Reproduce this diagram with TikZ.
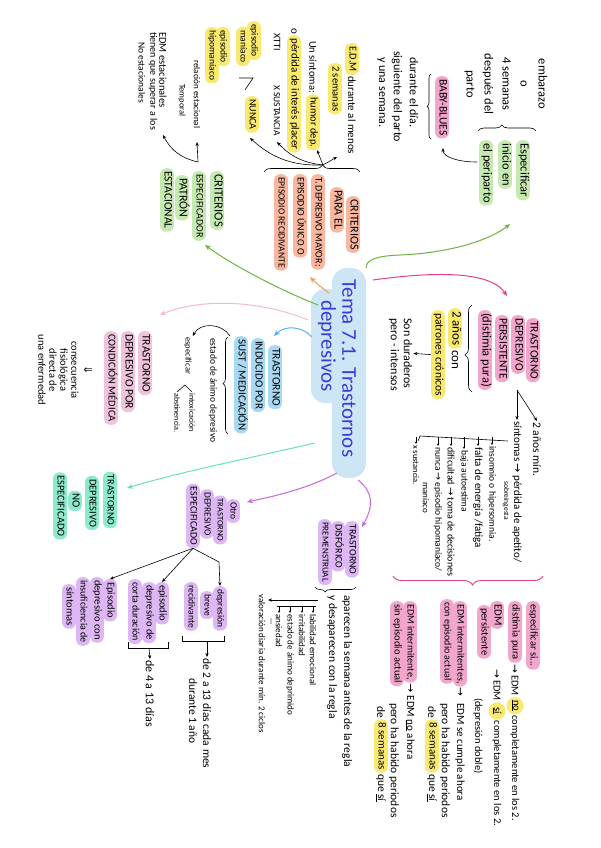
\documentclass[tikz,border=0pt]{standalone}
\usepackage{fontspec}
\setmainfont{Carlito}
\newfontfamily\symf{DejaVu Sans}
\usetikzlibrary{arrows.meta,decorations.pathreplacing}
\newcommand\myfs[1]{\fontsize{#1}{#1}\selectfont}
\newcommand\myra{{\symf →}}
\definecolor{cgreen}{HTML}{C5E9B1}
\definecolor{lgreen}{HTML}{6CB33F}
\definecolor{corange}{HTML}{F9B79F}
\definecolor{lorange}{HTML}{F39A5C}
\definecolor{cyellow}{HTML}{FAE96F}
\definecolor{cpink}{HTML}{F3A6CC}
\definecolor{lpink}{HTML}{E0408A}
\definecolor{clpink}{HTML}{F0C3DC}
\definecolor{llpink}{HTML}{F6B9D3}
\definecolor{cblue}{HTML}{A9D8F3}
\definecolor{ccentral}{HTML}{CDE6F5}
\definecolor{lblue}{HTML}{55B6EE}
\definecolor{tblue}{HTML}{3C3AD8}
\definecolor{cteal}{HTML}{8DEACD}
\definecolor{lteal}{HTML}{6ADFBE}
\definecolor{cpurple}{HTML}{DDB7F3}
\definecolor{lpurple}{HTML}{C467E0}
\begin{document}
\begin{tikzpicture}[x=1pt,y=1pt,rotate=-90,transform shape,
  tx/.style={anchor=west,inner sep=1pt,font=\myfs{#1}},
  tx/.default=10,
  pill/.style 2 args={anchor=west,fill=#1,rounded corners=6pt,inner xsep=3pt,inner ysep=2.5pt,text height=0.68em,text depth=0.2em,font=\myfs{#2}},
  cpill/.style 2 args={pill={#1}{#2},anchor=center},
  circ/.style={circle,fill=cyellow,anchor=west,inner sep=0.5pt,minimum size=17pt,font=\myfs{10.5}},
  blk/.style={line width=0.6pt,-{Stealth[length=4pt,width=3.2pt]}},
  sm/.style={line width=0.5pt,-{Stealth[length=2.5pt,width=2.4pt]}},
  link/.style={line width=1pt,draw=#1,-{Stealth[length=6pt,width=5pt]}},
  br/.style 2 args={line width=0.6pt,decorate,decoration={brace,amplitude=#1,aspect=#2}},
]
\fill[white] (0,0) rectangle (848,600);
\useasboundingbox (0,0) rectangle (848,600);

% ---------- central topic ----------
\node[fill=ccentral,rounded corners=15pt,minimum width=210pt,minimum height=34pt,inner sep=0] (tema) at (373,349) {};
\node[fill=ccentral,rounded corners=14pt,minimum width=114pt,minimum height=32pt,inner sep=0] (temab) at (346,327) {};
\node[tx=21,text=tblue] (tm1) at (278,349) {Tema 7.1. Trastornos};
\node[tx=21,text=tblue] (tm2) at (299,327) {depresivos};

% ---------- periparto ----------
\node[align=center,inner sep=0,font=\fontsize{12.5}{18}\selectfont] (pre) at (84,506) {embarazo\\o\\4 semanas\\después del\\parto};
\node[pill={cgreen}{12.5}] (e1) at (140,523) {Especificar};
\node[pill={cgreen}{12.5}] (e2) at (140,505) {inicio en};
\node[pill={cgreen}{12.5}] (e3) at (140,486) {el periparto};
\node[pill={cpink}{11.5}] (bb) at (76,442) {BABY-BLUES};
\node[tx=12] (d1) at (56,414) {durante el día.};
\node[tx=12] (d2) at (50,397) {siguiente del parto};
\node[tx=12] (d3) at (56,381) {y una semana.};

% ---------- criterios TDM (yellow) ----------
\node[pill={cyellow}{10.5}] (edm) at (43,352) {E.D.M};
\node[tx=11] (dur) at (edm.east) {durante al menos};
\node[pill={cyellow}{10.5}] (sem) at (63,335) {2 semanas};
\node[tx=10.5] (uns) at (40,313) {Un síntoma:};
\node[pill={cyellow}{10.5}] (hum) at (uns.east) {humor dep.};
\node[tx=11] (oo) at (27,294) {o};
\node[pill={cyellow}{11}] (ped) at (oo.east) {pérdida de interés placer};
\node[tx=10] (xtt) at (32,277) {XTTI};
\node[tx=9.5] (xsu) at (84,277) {X SUSTANCIA};
\node[pill={cyellow}{9.5}] (ep1) at (21,254) {episodio};
\node[pill={cyellow}{9.5}] (ep2) at (27,243) {maníaco};
\node[pill={cyellow}{9.5}] (eh1) at (27,223) {episodio};
\node[pill={cyellow}{9.5}] (eh2) at (27,212) {hipomaníaco};
\node[pill={cyellow}{10}] (nun) at (96,252) {NUNCA};

% ---------- criterios TDM (orange) ----------
\node[pill={corange}{12}] (o1) at (196,353) {CRITERIOS};
\node[pill={corange}{12}] (o2) at (187,337) {PARA EL};
\node[pill={corange}{10}] (o3) at (174,318) {T. DEPRESIVO MAYOR:};
\node[pill={corange}{10}] (o4) at (174,300) {EPISODIO ÚNICO O};
\node[pill={corange}{9.5}] (o5) at (174,281) {EPISODIO RECIDIVANTE};

% ---------- patrón estacional ----------
\node[pill={cgreen}{12.5}] (c1) at (171,217) {CRITERIOS};
\node[pill={cgreen}{10}] (c2) at (171,199) {ESPECIFICADOR};
\node[pill={cgreen}{12}] (c3) at (175,182) {PATRÓN};
\node[pill={cgreen}{11.5}] (c4) at (168,167) {ESTACIONAL};
\node[tx=9] (rel) at (59,197) {relación estacional};
\node[tx=8.5] (tem) at (83,182) {Temporal};
\node[tx=10.5] (ee) at (31,163) {EDM estacionales};
\node[tx=10] (tq) at (31,153) {tienen que superar a los};
\node[tx=9.5] (ne) at (41,142) {No estacionales};

% ---------- persistente ----------
\node[pill={cpink}{11.5}] (p1) at (318,533) {TRASTORNO};
\node[pill={cpink}{11.5}] (p2) at (315,518) {DEPRESIVO};
\node[pill={cpink}{11.5}] (p3) at (315,502) {PERSISTENTE};
\node[pill={cpink}{12.5}] (p4) at (310,485) {(distimia pura)};
\node[pill={cyellow}{13}] (an) at (308,455) {2 años};
\node[tx=13] (con) at (an.east) {con};
\node[pill={cyellow}{11.5}] (pc) at (310,438) {patrones crónicos};
\node[tx=12] (sd) at (317,408) {Son duraderos};
\node[tx=12] (pi) at (317,394) {pero - intensos};
\node[tx=11.5] (am) at (421,537) {2 años mín.};
\node[tx=11] (sn) at (420,517) {síntomas \myra{} pérdida de apetito/};
\node[tx=7.5] (sob) at (480,506) {sobreingesta};
\node[tx=9.5] (s1) at (445,492) {insomnio o hipersomnia.};
\node[tx=11] (s2) at (446,478) {falta de energía /fatiga};
\node[tx=9.5] (s3) at (449,464) {baja autoestima};
\node[tx=10] (s4) at (446,451) {dificultad \myra{} toma de decisiones};
\node[tx=9.5] (s5) at (446,438) {nunca \myra{} episodio hipomaníaco/};
\node[tx=9] (s6) at (481,426) {maníaco};
\node[tx=8.5] (s7) at (444,416) {x sustancia.};

% ---------- especificar si ----------
\node[pill={cpink}{10.5}] (q1) at (601,533) {especificar si...};
\node[pill={cpink}{10.5}] (q2) at (601,515) {distimia pura};
\node[tx=10.5] (q2a) at (q2.east) {\myra{} EDM};
\node[circ] (q2n) at (q2a.east) {\underline{no}};
\node[tx=10.5] (q2b) at (q2n.east) {completamente en los 2.};
\node[pill={cpink}{11}] (q3) at (601,497) {EDM};
\node[tx=10.5] (q3a) at (668,497) {\myra{} EDM};
\node[circ] (q3s) at (q3a.east) {\underline{sí}};
\node[tx=10.5] (q3b) at (q3s.east) {completamente en los 2.};
\node[pill={cpink}{10.5}] (q4) at (605,484) {persistente};
\node[tx=10.5] (q4b) at (697,478) {(depresión doble)};
\node[pill={cpink}{10}] (q5) at (601,460) {EDM intermitentes,};
\node[tx=10.5] (q5a) at (q5.east) {\myra};
\node[tx=11] (q5b) at (702,460) {EDM se cumple ahora};
\node[pill={cpink}{10}] (q6) at (599,447) {con episodio actual};
\node[tx=11.5] (q6b) at (702,445) {pero ha habido periodos};
\node[tx=11.5] (q7a) at (705,432) {de};
\node[pill={cyellow}{11}] (q7b) at (q7a.east) {8 semanas};
\node[tx=11.5] (q7c) at (q7b.east) {que \underline{sí}};
\node[pill={cpink}{10}] (q8) at (601,410) {EDM intermitente,};
\node[tx=11] (q8a) at (q8.east) {\myra{} EDM \underline{no} ahora};
\node[pill={cpink}{10.5}] (q9) at (601,397) {sin episodio actual};
\node[tx=11.5] (q9b) at (702,394) {pero ha habido periodos};
\node[tx=11.5] (q10a) at (705,381) {de};
\node[pill={cyellow}{11}] (q10b) at (q10a.east) {8 semanas};
\node[tx=11.5] (q10c) at (q10b.east) {que \underline{sí}};

% ---------- premenstrual ----------
\node[pill={cpurple}{10}] (m1) at (521,352) {TRASTORNO};
\node[pill={cpurple}{10}] (m2) at (521,338) {DISFÓRICO};
\node[pill={cpurple}{9}] (m3) at (519,325) {PREMENSTRUAL};
\node[tx=11.5] (ap1) at (594,347) {aparecen la semana antes de la regla};
\node[tx=11.5] (ap2) at (594,332) {y desaparecen con la regla};
\node[tx=9] (l1) at (613,313) {labilidad emocional};
\node[tx=9] (l2) at (613,302) {irritabilidad};
\node[tx=9] (l3) at (613,290) {estado de ánimo deprimido};
\node[tx=9] (l4) at (613,279) {ansiedad};
\node[tx=9] (l5) at (617,271) {...};
\node[tx=9] (val) at (593,262) {valoración diaria durante mín. 2 ciclos};

% ---------- otro especificado ----------
\node[cpill={cpurple}{9.5}] (g1) at (511,233) {Otro};
\node[cpill={cpurple}{8.5}] (g2) at (520,220) {TRASTORNO};
\node[cpill={cpurple}{9.5}] (g3) at (514,207) {DEPRESIVO};
\node[cpill={cpurple}{10}] (g4) at (516,193) {ESPECIFICADO};
\node[pill={cpurple}{9.5}] (db1) at (586,220) {depresión};
\node[pill={cpurple}{9.5}] (db2) at (591,207) {breve};
\node[pill={cpurple}{9.5}] (db3) at (582,191) {recidivante};
\node[tx=11.5] (db4) at (657,207) {de 2 a 13 días cada mes};
\node[tx=11.5] (db5) at (677,193) {durante 1 año};
\node[pill={cpurple}{10.5}] (ec1) at (582,162) {episodio};
\node[pill={cpurple}{10.5}] (ec2) at (582,149) {depresivo de};
\node[pill={cpurple}{10}] (ec3) at (579,135) {corta duración};
\node[tx=12] (ec4) at (659,150) {de 4 a 13 días};
\node[pill={cpurple}{10.5}] (ei1) at (579,110) {Episodio};
\node[pill={cpurple}{10.5}] (ei2) at (577,97) {depresivo con};
\node[pill={cpurple}{10}] (ei3) at (577,83) {insuficiencia de};
\node[pill={cpurple}{10.5}] (ei4) at (584,69) {síntomas};

% ---------- inducido por sustancia ----------
\node[pill={cblue}{11.5}] (b1) at (345,275) {TRASTORNO};
\node[pill={cblue}{11}] (b2) at (338,258) {INDUCIDO POR};
\node[pill={cblue}{11}] (b3) at (336,241) {SUST / MEDICACIÓN};
\node[tx=9.5] (b4) at (337,213) {estado de ánimo depresivo};
\node[tx=8.5] (esp) at (336,188) {especificar};
\node[tx=8] (inx) at (392,192) {intoxicación};
\node[tx=8] (abt) at (392,177) {abstinencia.};

% ---------- condición médica ----------
\node[pill={clpink}{11.5}] (cm1) at (331,145) {TRASTORNO};
\node[pill={clpink}{11.5}] (cm2) at (331,128) {DEPRESIVO POR};
\node[pill={clpink}{10.5}] (cm3) at (331,111) {CONDICIÓN MÉDICA};
\node[inner sep=0,font=\symf\myfs{11}] (dar) at (370,88) {⇓};
\node[align=center,inner sep=0,font=\fontsize{10.5}{11}\selectfont] (cons) at (370,58.5) {consecuencia\\fisiológica\\directa de\\una enfermedad};

% ---------- no especificado ----------
\node[cpill={cteal}{10}] (n1) at (500,110) {TRASTORNO};
\node[cpill={cteal}{10.5}] (n2) at (503,92) {DEPRESIVO};
\node[cpill={cteal}{11}] (n3) at (501,75) {NO};
\node[cpill={cteal}{10.5}] (n4) at (506,60) {ESPECIFICADO};

% ---------- coordinates for free ends ----------
\coordinate (k1) at (224,510);
\coordinate (k2s) at (305,318);
\coordinate (k2) at (245,205);
\coordinate (k3s) at (293,329);
\coordinate (k3) at (277,310);
\coordinate (k4s) at (280,373);
\coordinate (k4) at (296,507);
\coordinate (k5s) at (320,308);
\coordinate (k5) at (315,160);
\coordinate (k6s) at (337,312);
\coordinate (k6) at (336,274);
\coordinate (k7s) at (443,315);
\coordinate (k7) at (488,127);
\coordinate (k8s) at (473,337);
\coordinate (k8) at (502,247);
\coordinate (k9s) at (480,358);
\coordinate (k9) at (527,362);

% ---------- main branches ----------
\draw[link=lgreen] (tema.north west) .. controls (260,366) and (256,375) .. (255,400) .. controls (253,450) and (240,490) .. (k1);
\draw[link=lgreen] (k2s) .. controls (290,280) and (265,232) .. (k2);
\draw[link=lorange] (k3s) .. controls (288,322) and (282,315) .. (k3);
\draw[link=lpink] (k4s) .. controls (272,430) and (270,490) .. (k4);
\draw[link=llpink] (k5s) .. controls (300,260) and (298,200) .. (k5);
\draw[link=lblue] (k6s) .. controls (326,302) and (325,285) .. (k6);
\draw[link=lteal] (k7s) .. controls (458,250) and (472,180) .. (k7);
\draw[link=lpurple] (k8s) .. controls (490,305) and (497,270) .. (k8);
\draw[link=lpurple] (k9s) .. controls (492,373) and (505,374) .. (k9);

% ---------- periparto details ----------
\draw[br={6pt}{0.41}] (131,478) -- (131,536);
\draw[br={4pt}{0.5}] (139,431) -- (74,431);
\coordinate (e3s) at (162,477);
\coordinate (bbt) at (148,443);
\draw[blk] (e3s) .. controls (162,458) and (157,443) .. (bbt);

% ---------- TDM criteria details ----------
\draw[br={7pt}{0.61}] (172,264) -- (172,360);
\coordinate (obt) at (165,323);
\coordinate (ot1) at (157,337);
\coordinate (ot2) at (150,317);
\coordinate (ot3) at (142,277);
\coordinate (ot4) at (138,250);
\draw[blk] (obt) -- (ot1);
\draw[blk] (obt) -- (ot2);
\draw[blk] (obt) to[bend left=20] (ot3);
\draw[blk] (obt) to[bend left=22] (ot4);
\draw[line width=0.6pt] (78,239) -- (78,253) -- (90,245);

% ---------- estacional details ----------
\coordinate (cj) at (162,198);
\coordinate (ct1) at (142,197);
\coordinate (ct2) at (135,163);
\draw[blk] (cj) -- (ct1);
\draw[blk] (cj) to[bend left=25] (ct2);

% ---------- persistente details ----------
\draw[br={7pt}{0.425}] (392,472) -- (305,472);
\draw[blk] (pc.south) -- (sd.north);
\coordinate (pj) at (390,517);
\draw[blk] (pj) -- (am.west);
\draw[blk] (pj) -- (sn.west);
\draw[line width=0.6pt] (441,508) -- (436,420) -- (441,418);
\foreach \n/\y in {s1/492,s2/478,s3/464,s4/451,s5/438,s7/416} \draw[sm] (437,\y) -- (\n.west);
\draw[br={9pt}{0.47},draw=lpink,line width=0.9pt] (576,543) -- (576,393);

% ---------- premenstrual details ----------
\draw[br={5pt}{0.75}] (587,356) -- (587,315);
\coordinate (pmj) at (600,318);
\coordinate (pmv) at (600,268);
\draw[blk] (pmj) -- (pmv);
\draw[line width=0.6pt] (606,316) -- (606,277);
\foreach \n/\y in {l1/313,l2/302,l3/290,l4/279} \draw[sm] (606,\y) -- (\n.west);

% ---------- otro especificado details ----------
\coordinate (gk) at (562,219);
\draw[blk] (g4.east) -- (gk) -- (db1.west);
\draw[blk] (g4.east) -- (ec1.west);
\draw[blk] (g4.east) -- (ei1.west);
\draw[line width=0.6pt] (636,182) -- (641,182) -- (641,224) -- (636,224);
\coordinate (bk1) at (641,207);
\draw[blk] (bk1) -- (db4.west);
\draw[line width=0.6pt] (642,128) -- (648,128) -- (648,168) -- (642,168);
\coordinate (bk2) at (648,149);
\draw[blk] (bk2) -- (ec4.west);

% ---------- sustancia details ----------
\draw[br={5pt}{0.52}] (434,228) -- (337,228);
\coordinate (bbs) at (336,230);
\draw[blk] (bbs) .. controls (323,222) and (322,200) .. (esp.north west);
\draw[line width=0.6pt] (inx.west) -- (385,185) -- (abt.west);
\end{tikzpicture}
\end{document}
